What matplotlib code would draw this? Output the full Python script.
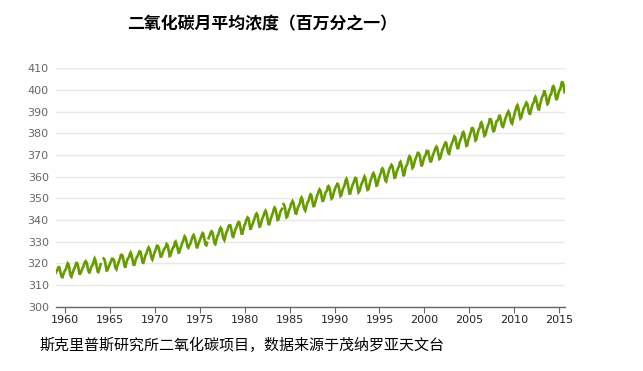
import numpy as np
import matplotlib
matplotlib.use("Agg")
import matplotlib.pyplot as plt

plt.rcParams['font.family'] = ['Noto Sans CJK SC', 'DejaVu Sans']

title = "二氧化碳月平均浓度（百万分之一）"
caption = "斯克里普斯研究所二氧化碳项目，数据来源于茂纳罗亚天文台"

first_year = 1959
# monthly means, ppm (Jan..Dec); None = missing month
co2_monthly = [
    [315.62, 316.38, 316.71, 317.72, 318.29, 318.15, 316.54, 314.80, 313.84, 313.26, 314.80, 315.58],
    [316.43, 316.97, 317.58, 319.02, 320.03, 319.59, 318.18, 315.91, 314.16, 313.83, 315.00, 316.19],
    [316.93, 317.70, 318.54, 319.48, 320.58, 319.77, 318.57, 316.79, 314.80, 315.38, 316.10, 317.01],
    [317.94, 318.56, 319.68, 320.63, 321.01, 320.55, 319.58, 317.40, 316.26, 315.42, 316.69, 317.69],
    [318.74, 319.08, 319.86, 321.39, 322.25, 321.47, 319.74, 317.77, 316.21, 315.99, 317.12, 318.31],
    [319.57, None, None, None, 322.23, 321.89, 320.44, 318.70, 316.70, 316.79, 317.79, 318.71],
    [319.44, 320.44, 320.89, 322.13, 322.16, 321.87, 321.39, 318.81, 317.81, 317.30, 318.87, 319.42],
    [320.62, 321.59, 322.39, 323.87, 324.01, 323.75, 322.39, 320.37, 318.64, 318.10, 319.79, 321.08],
    [322.07, 322.50, 323.04, 324.42, 325.00, 324.09, 322.55, 320.92, 319.31, 319.31, 320.72, 321.96],
    [322.57, 323.15, 323.89, 325.02, 325.57, 325.36, 324.14, 322.03, 320.41, 320.25, 321.31, 322.84],
    [324.00, 324.42, 325.64, 326.66, 327.34, 326.76, 325.88, 323.67, 322.38, 321.78, 322.85, 324.11],
    [325.03, 325.99, 326.87, 328.13, 328.07, 327.66, 326.35, 324.69, 323.10, 323.16, 323.98, 325.13],
    [326.17, 326.68, 327.18, 327.78, 328.92, 328.57, 327.34, 325.46, 323.36, 323.57, 324.80, 326.01],
    [326.77, 327.63, 327.75, 329.72, 330.07, 329.09, 328.05, 326.32, 324.93, 325.06, 326.50, 327.55],
    [328.54, 329.56, 330.30, 331.50, 332.48, 332.07, 330.87, 329.31, 327.51, 327.18, 328.16, 328.64],
    [329.35, 330.71, 331.48, 332.65, 333.09, 332.25, 331.18, 329.40, 327.43, 327.37, 328.46, 329.57],
    [330.40, 331.40, 332.04, 333.31, 333.96, 333.59, 331.91, 330.06, 328.56, 328.34, 329.49, None],
    [331.63, 332.46, 333.36, 334.45, 334.82, 334.32, 333.05, 330.87, 329.24, 328.87, 330.18, 331.50],
    [332.81, 333.23, 334.55, 335.82, 336.44, 335.99, 334.65, 332.41, 331.32, 330.73, 332.05, 333.53],
    [334.66, 335.07, 336.33, 337.39, 337.65, 337.57, 336.25, 334.39, 332.44, 332.25, 333.59, 334.76],
    [335.89, 336.44, 337.63, 338.54, 339.06, 338.95, 337.41, 335.71, 333.68, 333.69, 335.05, 336.53],
    [337.81, 338.16, 339.88, 340.57, 341.19, 340.87, 339.25, 337.19, 335.49, 336.63, 337.74, 338.36],
    [339.44, 340.33, 341.57, 342.56, 343.01, 342.47, 340.71, 338.52, 336.96, 337.13, 338.58, 339.89],
    [340.93, 341.69, 342.69, 343.79, 344.30, 343.43, 341.88, 339.89, 338.10, 338.05, 339.26, 340.67],
    [341.42, 342.68, 343.46, 345.10, 345.76, 345.36, 343.91, 342.05, 340.00, 340.12, 341.33, 342.94],
    [343.87, 344.60, 345.20, None, 347.36, 346.74, 345.41, 343.01, 341.23, 341.52, 342.86, 344.41],
    [345.09, 345.89, 347.49, 348.00, 348.75, 348.19, 346.54, 344.63, 343.03, 342.92, 344.24, 345.62],
    [346.43, 346.94, 347.88, 349.57, 350.35, 349.72, 347.78, 345.86, 344.84, 344.32, 345.67, 346.88],
    [348.19, 348.55, 349.52, 351.12, 351.84, 351.49, 349.82, 347.63, 346.38, 346.49, 347.75, 349.03],
    [350.20, 351.61, 352.22, 353.53, 354.14, 353.62, 352.53, 350.41, 348.84, 348.94, 350.04, 351.29],
    [352.72, 353.10, 353.65, 355.43, 355.70, 355.11, 353.79, 351.42, 349.81, 350.11, 351.26, 352.63],
    [353.64, 354.72, 355.49, 356.09, 357.08, 356.11, 354.70, 352.68, 351.05, 351.36, 352.81, 354.22],
    [354.85, 355.66, 357.04, 358.40, 359.00, 357.99, 356.00, 353.78, 352.20, 352.22, 353.70, 354.98],
    [356.09, 356.85, 357.73, 358.91, 359.45, 359.19, 356.72, 354.79, 352.79, 353.20, 354.15, 355.39],
    [356.77, 357.17, 358.26, 359.16, 360.07, 359.41, 357.44, 355.30, 353.87, 354.04, 355.27, 356.70],
    [358.36, 358.91, 359.97, 361.26, 361.68, 360.95, 359.55, 357.49, 355.84, 356.00, 357.59, 359.05],
    [359.98, 361.03, 361.66, 363.48, 363.82, 363.30, 361.94, 359.50, 358.11, 357.80, 359.61, 360.74],
    [362.09, 363.29, 364.06, 364.76, 365.45, 365.01, 363.70, 361.54, 359.51, 359.65, 360.80, 362.38],
    [363.23, 364.06, 364.61, 366.40, 366.84, 365.68, 364.52, 362.57, 360.24, 360.83, 362.49, 364.34],
    [365.17, 365.66, 367.25, 368.66, 369.42, 368.99, 367.82, 365.95, 364.02, 364.40, 365.52, 367.13],
    [368.18, 369.07, 369.68, 370.99, 370.96, 370.30, 369.45, 366.90, 364.81, 365.37, 366.72, 368.10],
    [369.29, 369.55, 370.60, 371.82, 371.58, 371.70, 369.86, 368.13, 367.00, 367.03, 368.37, 369.67],
    [370.59, 371.51, 372.43, 373.37, 373.85, 373.21, 371.51, 369.61, 368.18, 368.45, 369.76, 371.24],
    [372.53, 373.20, 374.12, 375.02, 375.76, 375.52, 374.01, 371.85, 370.75, 370.55, 372.25, 373.79],
    [374.88, 375.64, 376.45, 377.73, 378.60, 378.28, 376.70, 374.38, 373.17, 373.15, 374.66, 375.99],
    [377.00, 377.87, 378.88, 380.35, 380.62, 379.69, 377.47, 376.01, 374.25, 374.46, 376.16, 377.51],
    [378.46, 379.73, 380.77, 382.29, 382.45, 382.21, 380.74, 378.74, 376.70, 377.00, 378.35, 380.11],
    [381.38, 382.19, 382.67, 384.61, 385.03, 384.05, 382.46, 380.41, 378.85, 379.13, 380.15, 381.82],
    [382.89, 383.90, 384.58, 386.50, 386.56, 386.10, 384.50, 381.99, 380.96, 381.12, 382.45, 383.95],
    [385.52, 385.82, 386.03, 387.21, 388.54, 387.76, 386.36, 384.09, 383.18, 382.99, 384.19, 385.56],
    [386.94, 387.48, 388.82, 389.55, 390.14, 389.48, 388.03, 386.11, 384.74, 384.43, 386.02, 387.42],
    [388.71, 390.20, 391.17, 392.46, 393.00, 392.15, 390.20, 388.35, 386.85, 387.24, 388.67, 389.79],
    [391.33, 391.86, 392.60, 393.25, 394.19, 393.74, 392.51, 390.13, 389.08, 389.00, 390.28, 391.86],
    [393.12, 393.86, 394.40, 396.18, 396.74, 395.71, 394.36, 392.39, 391.11, 391.05, 392.98, 394.34],
    [395.55, 396.80, 397.43, 398.41, 399.78, 398.61, 397.32, 395.20, 393.45, 393.70, 395.16, 396.84],
    [397.85, 398.01, 399.77, 401.38, 401.78, 401.25, 399.10, 397.03, 395.38, 396.03, 397.28, 398.91],
    [399.98, 400.28, 401.54, 403.28, 403.96, 402.80, 401.31, 398.93],
]

x_ticks = list(range(1960, 2016, 5))
y_ticks = list(range(300, 411, 10))

dates, values = [], []
for i, row in enumerate(co2_monthly):
    for m, v in enumerate(row):
        dates.append(first_year + i + m / 12)
        values.append(np.nan if v is None else v)
dates = np.array(dates)
values = np.array(values)

fig = plt.figure(figsize=(6.43, 3.71), dpi=100)
ax = fig.add_axes([0.0866, 0.1733, 0.7915, 0.6425])

ax.plot(dates, values, color='#669c00', lw=1.9, solid_joinstyle='miter')

ax.set_xlim(dates[0], dates[-1])
ax.set_ylim(300, 410)
ax.set_xticks(x_ticks)
ax.set_xticklabels([str(t) for t in x_ticks], fontsize=8, color='#222222',
                   family='DejaVu Sans')
ax.set_yticks(y_ticks)
ax.set_yticklabels([str(t) for t in y_ticks], fontsize=8, color='#666666',
                   family='DejaVu Sans')
ax.tick_params(axis='y', length=0, pad=5)
ax.tick_params(axis='x', length=4, color='#666666', pad=2)

ax.grid(axis='y', color='#e8e8e8', lw=1)
ax.set_axisbelow(True)
for s in ['top', 'right', 'left']:
    ax.spines[s].set_visible(False)
ax.spines['bottom'].set_color('#666666')
ax.spines['bottom'].set_linewidth(1)

fig.text(0.4075, 0.935, title, ha='center', va='center', fontsize=12.2,
         fontweight='bold')
fig.text(0.062, 0.07, caption, ha='left', va='center', fontsize=10.8)

fig.savefig('out.png', dpi=100)
